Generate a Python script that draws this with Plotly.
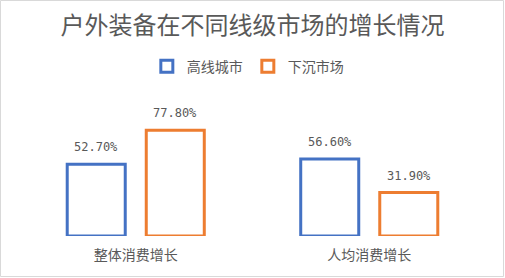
import plotly.graph_objects as go

categories = ["整体消费增长", "人均消费增长"]
series_names = ["高线城市", "下沉市场"]
high_tier = [52.7, 56.6]
lower_tier = [77.8, 31.9]
colors = ["#4472C4", "#ED7D31"]

W, H = 505, 278
ml, mr, mt, mb = 19, 19, 115, 42
ppu = 1.36
ymax = (H - mt - mb) / ppu
bargap, bargroupgap = 0.323, 0.266
slot = (1 - bargap) / len(series_names)

fig = go.Figure()
annotations = []
for k, (name, vals, col) in enumerate(zip(series_names, [high_tier, lower_tier], colors)):
    fig.add_trace(go.Bar(
        name=name, x=categories, y=vals,
        marker=dict(color="white", line=dict(color=col, width=3)),
        cliponaxis=False, hoverinfo="x+y",
    ))
    off = (k - (len(series_names) - 1) / 2) * slot
    for i, v in enumerate(vals):
        annotations.append(dict(
            x=i + off, y=v, xref="x", yref="y", text=f"{v:.2f}%",
            showarrow=False, yanchor="middle", yshift=17,
            font=dict(family="DejaVu Sans Mono", size=12, color="#595959"),
        ))

fig.update_layout(
    width=W, height=H,
    margin=dict(l=ml, r=mr, t=mt, b=mb),
    paper_bgcolor="white", plot_bgcolor="white",
    barmode="group", bargap=bargap, bargroupgap=bargroupgap,
    title=dict(text="户外装备在不同线级市场的增长情况", x=0.5, xanchor="center",
               y=1 - 26 / H, yanchor="middle", yref="container",
               font=dict(family="Noto Sans CJK SC", size=24, color="#595959")),
    legend=dict(orientation="h", x=0.49, xanchor="center", y=(H - 66.7 - mb) / (H - mt - mb),
                yanchor="middle", font=dict(family="Noto Sans CJK SC", size=14, color="#595959"),
                itemclick=False),
    xaxis=dict(showgrid=False, showline=False, ticks="", zeroline=False, ticklabelstandoff=9,
               tickfont=dict(family="Noto Sans CJK SC", size=14, color="#595959")),
    yaxis=dict(visible=False, range=[0, ymax]),
    annotations=annotations,
    shapes=[dict(type="rect", xref="paper", yref="paper",
                 x0=-(ml - 0.5) / (W - ml - mr), x1=1 + (mr - 1.5) / (W - ml - mr),
                 y0=-(mb - 1.5) / (H - mt - mb), y1=1 + (mt - 0.5) / (H - mt - mb),
                 line=dict(color="#D9D9D9", width=1), layer="below")],
)
fig.write_html("out.html")
